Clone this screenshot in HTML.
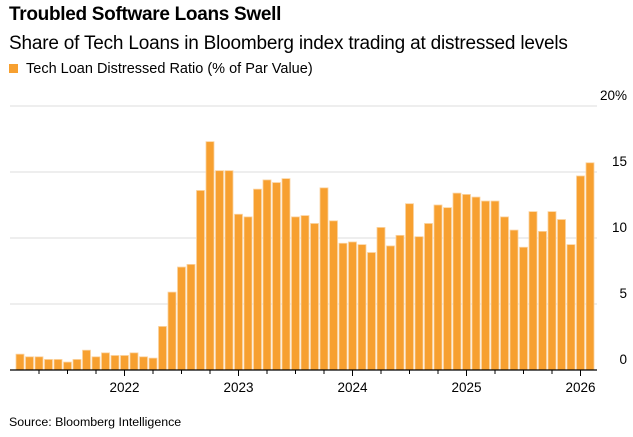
<!DOCTYPE html>
<html><head><meta charset="utf-8"><style>
body{margin:0;background:#fff;font-family:"Liberation Sans",sans-serif;}
#wrap{position:relative;width:633px;height:437px;overflow:hidden}
.t{position:absolute;left:9px;white-space:nowrap;color:#000}
</style></head><body>
<div id="wrap">
<div class="t" style="top:4px;font-size:19px;font-weight:bold;letter-spacing:-0.3px">Troubled Software Loans Swell</div>
<div class="t" style="top:33px;font-size:19px;letter-spacing:-0.2px">Share of Tech Loans in Bloomberg index trading at distressed levels</div>
<div class="t" style="top:61px;font-size:14.5px;"><span style="display:inline-block;width:9px;height:9px;background:#f7a030;margin-right:8px;vertical-align:0px"></span>Tech Loan Distressed Ratio (% of Par Value)</div>
<div class="t" style="top:415px;font-size:12.4px;">Source: Bloomberg Intelligence</div>
<svg id="chart" width="633" height="437" style="position:absolute;left:0;top:0"></svg>
</div>
<script>
const values=[1.2,1.0,1.0,0.8,0.8,0.6,0.8,1.5,1.0,1.3,1.1,1.1,1.3,1.0,0.9,3.3,5.9,7.8,8.0,13.6,17.3,15.1,15.1,11.8,11.6,13.7,14.4,14.2,14.5,11.6,11.7,11.1,13.8,11.3,9.6,9.7,9.5,8.9,10.8,9.4,10.2,12.6,10.1,11.1,12.5,12.3,13.4,13.3,13.1,12.8,12.8,11.6,10.6,9.3,12.0,10.5,12.0,11.4,9.5,14.7,15.7];
const yTicks=[0,5,10,15,20];
const yTickLabels=["0","5","10","15","20%"];
const yearLabels=["2022","2023","2024","2025","2026"];
const yearIndex=[11,23,35,47,59];
const svg=document.getElementById('chart');
const NS='http://www.w3.org/2000/svg';
const x0=20,step=9.5,yBase=370,pxPer=13.2;
const xs=i=>x0+i*step;
const ys=v=>yBase-v*pxPer;
function mk(t,a){const e=document.createElementNS(NS,t);for(const k in a)e.setAttribute(k,a[k]);svg.appendChild(e);return e;}
yTicks.forEach((v,i)=>{
 if(v>0){const g=mk('line',{x1:10,x2:597,y1:ys(v),y2:ys(v),stroke:'#ddd','stroke-width':1});
 
 }
 const t=mk('text',{x:627,y:ys(v)-6,'text-anchor':'end','font-size':13.5,'font-family':'Liberation Sans, sans-serif',fill:'#000'});
 t.textContent=yTickLabels[i];
 
 
});
values.forEach((v,i)=>{
 const r=mk('rect',{x:xs(i)-4,y:ys(v),width:8,height:v*pxPer,fill:'#f7a030',stroke:'#fbd3a0','stroke-width':0.8});
 
 
});
const ax=mk('line',{x1:10,x2:597,y1:yBase,y2:yBase,stroke:'#000','stroke-width':1.2});


for(let i=2;i<values.length;i+=3){
 const major=yearIndex.includes(i);
 const tk=mk('line',{x1:xs(i),x2:xs(i),y1:yBase,y2:yBase+(major?6:4),stroke:'#000','stroke-width':1});
 
 
}
yearLabels.forEach((l,k)=>{
 const t=mk('text',{x:xs(yearIndex[k]),y:392,'text-anchor':'middle','font-size':13.5,'font-family':'Liberation Sans, sans-serif',fill:'#000'});
 t.textContent=l;
 
 
});
</script>
</body></html>
